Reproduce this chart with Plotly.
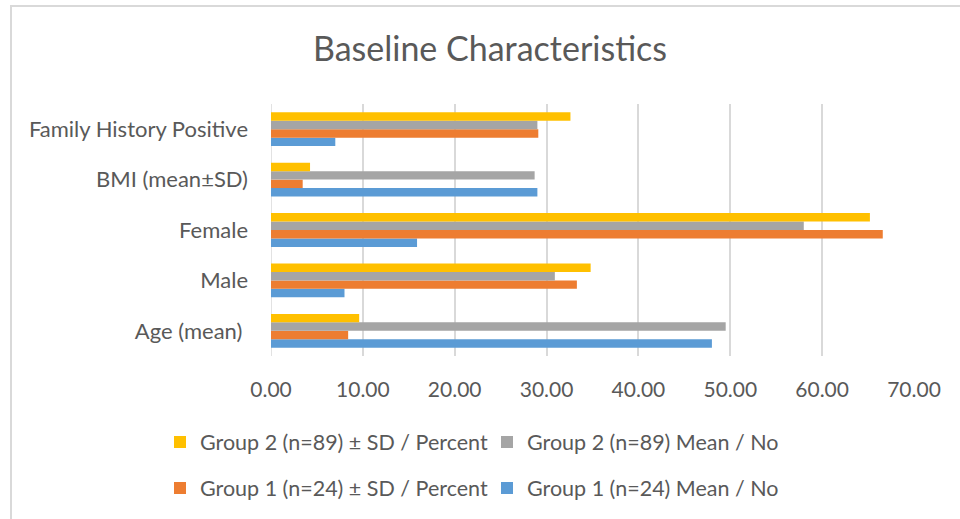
import plotly.graph_objects as go

# Category labels (bottom to top on the horizontal bar chart)
categories = ["Age (mean)\u00a0", "Male", "Female", "BMI (mean±SD)", "Family History Positive"]

# Series values per category, same order as categories
g1_mean = [48.0, 8.0, 15.9, 29.0, 7.0]
g1_sd_pct = [8.4, 33.3, 66.6, 3.45, 29.1]
g2_mean = [49.5, 30.9, 58.0, 28.7, 29.0]
g2_sd_pct = [9.6, 34.8, 65.2, 4.25, 32.6]

series_names = [
    "Group 1 (n=24) Mean / No",
    "Group 1 (n=24) ± SD / Percent",
    "Group 2 (n=89) Mean / No",
    "Group 2 (n=89) ± SD / Percent",
]
series_values = [g1_mean, g1_sd_pct, g2_mean, g2_sd_pct]
series_colors = ["#5B9BD5", "#ED7D31", "#A5A5A5", "#FFC000"]
series_legend = ["legend2", "legend2", "legend", "legend"]

x_ticks = [0, 10, 20, 30, 40, 50, 60, 70]

FONT = "Lato, Carlito, 'Liberation Sans', sans-serif"
TEXT = "#595959"
GRID = "#D9D9D9"

W, H = 960, 519
ML, MR, MT, MB = 271, 46, 104, 162
PW, PH = W - ML - MR, H - MT - MB


def px_x(x):
    return (x - ML) / PW


def px_y(y):
    return (H - MB - y) / PH


fig = go.Figure()
for name, vals, col, lg in zip(series_names, series_values, series_colors, series_legend):
    fig.add_trace(go.Bar(
        y=categories, x=vals, name=name, orientation="h",
        marker=dict(color=col, line=dict(width=0)),
        legend=lg,
    ))

LEGEND_FONT = dict(size=21.5, color=TEXT)
ENTRY_W = 282

fig.update_layout(
    width=W, height=H,
    margin=dict(l=ML, r=MR, t=MT, b=MB),
    paper_bgcolor="white", plot_bgcolor="white",
    barmode="group", bargap=0.33, bargroupgap=0.0,
    font=dict(family=FONT, color=TEXT, size=20),
    title=dict(
        text="Baseline Characteristics",
        x=490 / W, xref="container", xanchor="center",
        y=1 - 49 / H, yref="container", yanchor="middle",
        font=dict(family=FONT, size=34, color=TEXT),
    ),
    xaxis=dict(
        range=[0, 70], tickvals=x_ticks, tickformat=".2f",
        showgrid=True, gridcolor=GRID, gridwidth=1.5,
        zeroline=False, showline=False, ticks="",
        ticklabelstandoff=19,
        tickfont=dict(size=21, color=TEXT),
        fixedrange=True,
    ),
    yaxis=dict(
        showgrid=False, zeroline=False, showline=False, ticks="",
        ticklabelstandoff=22,
        tickfont=dict(size=22, color=TEXT),
        fixedrange=True,
    ),
    legend=dict(
        orientation="h", traceorder="reversed",
        x=px_x(160), xanchor="left", y=px_y(442), yanchor="middle",
        font=LEGEND_FONT,
        entrywidth=ENTRY_W, entrywidthmode="pixels",
        bgcolor="rgba(0,0,0,0)",
    ),
    legend2=dict(
        orientation="h", traceorder="reversed",
        x=px_x(160), xanchor="left", y=px_y(488), yanchor="middle",
        font=LEGEND_FONT,
        entrywidth=ENTRY_W, entrywidthmode="pixels",
        bgcolor="rgba(0,0,0,0)",
    ),
    shapes=[
        # chart frame (left and top edges)
        dict(type="line", xref="paper", yref="paper",
             x0=px_x(11), x1=px_x(11), y0=px_y(5.5), y1=px_y(H + 5),
             line=dict(color=GRID, width=2)),
        dict(type="line", xref="paper", yref="paper",
             x0=px_x(10), x1=px_x(W + 5), y0=px_y(5.5), y1=px_y(5.5),
             line=dict(color=GRID, width=2)),
        # value axis baseline
        dict(type="line", xref="x", yref="paper",
             x0=0, x1=0, y0=0, y1=1,
             line=dict(color=GRID, width=1.5), layer="below"),
    ],
)

fig.write_html("out.html")
